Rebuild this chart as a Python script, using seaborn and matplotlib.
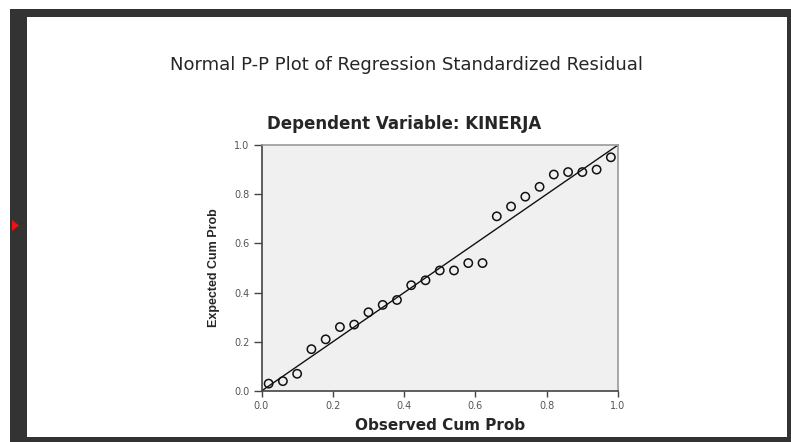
import matplotlib
matplotlib.use("Agg")
import matplotlib.pyplot as plt
import seaborn as sns
import pandas as pd
from matplotlib.patches import Rectangle, Polygon

# ---- data ----
observed_cum_prob = [0.02, 0.06, 0.10, 0.14, 0.18, 0.22, 0.26, 0.30, 0.34, 0.38,
                     0.42, 0.46, 0.50, 0.54, 0.58, 0.62, 0.66, 0.70, 0.74, 0.78,
                     0.82, 0.86, 0.90, 0.94, 0.98]
expected_cum_prob = [0.03, 0.04, 0.07, 0.17, 0.21, 0.26, 0.27, 0.32, 0.35, 0.37,
                     0.43, 0.45, 0.49, 0.49, 0.52, 0.52, 0.71, 0.75, 0.79, 0.83,
                     0.88, 0.89, 0.89, 0.90, 0.95]
ref_line = [0.0, 1.0]
tick_values = [0.0, 0.2, 0.4, 0.6, 0.8, 1.0]
tick_labels = ["0.0", "0.2", "0.4", "0.6", "0.8", "1.0"]
title = "Normal P-P Plot of Regression Standardized Residual"
subtitle = "Dependent Variable: KINERJA"
xlabel = "Observed Cum Prob"
ylabel = "Expected Cum Prob"

df = pd.DataFrame({"obs": observed_cum_prob, "exp": expected_cum_prob})
line_df = pd.DataFrame({"x": ref_line, "y": ref_line})

sns.set_style("white")
plt.rcParams["font.family"] = ["DejaVu Sans"]

fig = plt.figure(figsize=(7.91, 4.42), dpi=100)
fig.patch.set_facecolor("white")

W, H = 791.0, 442.0
dark = "#333333"
# frame bands
fig.patches.append(Rectangle((10 / W, 0), 17 / W, 1 - 9 / H, transform=fig.transFigure,
                             facecolor=dark, edgecolor="none", zorder=0))
fig.patches.append(Rectangle((10 / W, 1 - 17 / H), 1, 8 / H, transform=fig.transFigure,
                             facecolor=dark, edgecolor="none", zorder=0))
fig.patches.append(Rectangle((787 / W, 0), 4 / W, 1 - 9 / H, transform=fig.transFigure,
                             facecolor=dark, edgecolor="none", zorder=0))
fig.patches.append(Rectangle((10 / W, 0), 1, 5 / H, transform=fig.transFigure,
                             facecolor=dark, edgecolor="none", zorder=0))
fig.patches.append(Polygon([(12 / W, 1 - 220 / H), (12 / W, 1 - 231 / H), (19 / W, 1 - 225.5 / H)],
                           closed=True, transform=fig.transFigure,
                           facecolor="#ee1111", edgecolor="none", zorder=1))

ax = fig.add_axes([261.5 / W, 1 - 391 / H, (618 - 261.5) / W, (391 - 145) / H])
ax.set_facecolor("#f0f0f0")

sns.lineplot(data=line_df, x="x", y="y", ax=ax, color="#111111", linewidth=1.0)
sns.scatterplot(data=df, x="obs", y="exp", ax=ax, marker="o", s=36,
                facecolor="none", edgecolor="#111111", linewidth=1.1, zorder=3)

ax.set_xlim(0, 1)
ax.set_ylim(0, 1)
ax.set_xticks(tick_values)
ax.set_xticklabels(tick_labels)
ax.set_yticks(tick_values)
ax.set_yticklabels(tick_labels)
ax.tick_params(axis="both", direction="out", width=1, color="#444444",
               labelsize=7, labelcolor="#555555")
ax.tick_params(axis="y", length=5.5, pad=3)
ax.tick_params(axis="x", length=4.5, pad=3)
ax.tick_params(bottom=True, left=True)

for side in ["left", "bottom"]:
    ax.spines[side].set_color("#444444")
    ax.spines[side].set_linewidth(1.2)
for side in ["top", "right"]:
    ax.spines[side].set_color("#999999")
    ax.spines[side].set_linewidth(1.2)

ax.set_xlabel(xlabel, fontsize=11, fontweight="bold", labelpad=5)
ax.set_ylabel(ylabel, fontsize=9, fontweight="bold", labelpad=10,
              family=["Liberation Sans", "DejaVu Sans"])

fig.text(406 / W, 1 - 65 / H, title, ha="center", va="center", fontsize=13)
fig.text(404 / W, 1 - 124 / H, subtitle, ha="center", va="center", fontsize=12, fontweight="bold")

fig.savefig("out.png", dpi=100)
